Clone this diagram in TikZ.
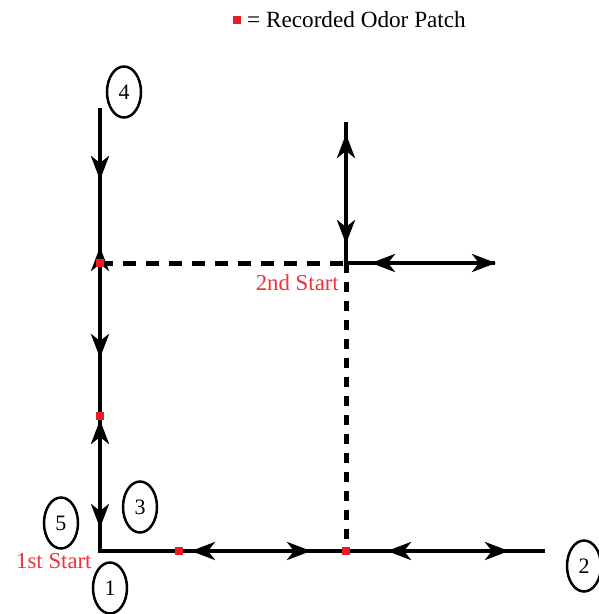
\documentclass[tikz,border=0pt]{standalone}
\usepackage{fontspec}
\setmainfont{Liberation Serif}
\usetikzlibrary{arrows.meta,shapes.geometric}
\definecolor{patch}{RGB}{237,28,36}
\definecolor{lbl}{RGB}{240,50,60}
\tikzset{
  path/.style={line width=4pt,line cap=butt},
  hdash/.style={line width=5pt,dash pattern=on 13pt off 10pt},
  vdash/.style={line width=5pt,dash pattern=on 10pt off 9pt},
  tip/.style={line width=4pt,-{Stealth[length=24pt,width=18pt,inset=7pt]}},
  num/.style={draw,ellipse,line width=2.5pt,minimum width=34pt,minimum height=51pt,inner sep=0pt,font=\fontsize{22}{25}\selectfont},
  sq/.style={fill=patch,draw=none,minimum size=7.5pt,inner sep=0pt},
  lab/.style={text=lbl,font=\fontsize{22.8}{26}\selectfont,inner sep=0pt}
}
\begin{document}
\begin{tikzpicture}[x=1pt,y=-1pt]
\useasboundingbox (0,0) rectangle (599,614);
% key points
\coordinate (top4) at (100,108);
\coordinate (P1) at (100,263);
\coordinate (P2) at (100,416);
\coordinate (O) at (100,551);
\coordinate (B1) at (179,551);
\coordinate (B2) at (346,551);
\coordinate (Bend) at (545,551);
\coordinate (S2) at (346,263);
\coordinate (Utop) at (346,122);
\coordinate (Rend) at (495,263);
% solid lines
\draw[path] (top4) -- (O) -- (Bend);
\draw[path] (Utop) -- (S2) -- (Rend);
% dashed lines
\draw[hdash] (P1) -- (S2);
\draw[vdash] (S2) -- (B2);
% arrow heads, left vertical
\coordinate (a1s) at (100,150); \coordinate (a1t) at (100,180);
\coordinate (a2s) at (100,285); \coordinate (a2t) at (100,247);
\coordinate (a3s) at (100,325); \coordinate (a3t) at (100,358);
\coordinate (a4s) at (100,455); \coordinate (a4t) at (100,420);
\coordinate (a5s) at (100,495); \coordinate (a5t) at (100,528);
\draw[tip] (a1s) -- (a1t);
\draw[tip] (a2s) -- (a2t);
\draw[tip] (a3s) -- (a3t);
\draw[tip] (a4s) -- (a4t);
\draw[tip] (a5s) -- (a5t);
% bottom horizontal
\coordinate (b1s) at (225,551); \coordinate (b1t) at (191,551);
\coordinate (b2s) at (275,551); \coordinate (b2t) at (311,551);
\coordinate (b3s) at (425,551); \coordinate (b3t) at (387,551);
\coordinate (b4s) at (475,551); \coordinate (b4t) at (509,551);
\draw[tip] (b1s) -- (b1t);
\draw[tip] (b2s) -- (b2t);
\draw[tip] (b3s) -- (b3t);
\draw[tip] (b4s) -- (b4t);
% upper vertical at second start
\coordinate (c1s) at (346,170); \coordinate (c1t) at (346,134);
\coordinate (c2s) at (346,210); \coordinate (c2t) at (346,244);
\draw[tip] (c1s) -- (c1t);
\draw[tip] (c2s) -- (c2t);
% right horizontal at second start
\coordinate (d1s) at (405,263); \coordinate (d1t) at (371,263);
\coordinate (d2s) at (460,263); \coordinate (d2t) at (496,263);
\draw[tip] (d1s) -- (d1t);
\draw[tip] (d2s) -- (d2t);
% odor patches
\node[sq] (q1) at (P1) {};
\node[sq] (q2) at (P2) {};
\node[sq] (q3) at (B1) {};
\node[sq] (q4) at (B2) {};
% numbers
\node[num] (n4) at (124,92) {4};
\node[num] (n3) at (140,507) {3};
\node[num] (n5) at (61,523) {5};
\node[num] (n1) at (110,588) {1};
\node[num] (n2) at (584,566) {2};
% labels
\node[lab,anchor=east] (l2) at (339,283) {2nd Start};
\node[lab,anchor=west] (l1) at (16,561) {1st Start};
% legend
\node[sq] (lk) at (237,20) {};
\node[anchor=west,inner sep=0pt,font=\fontsize{23.2}{26}\selectfont] (lt) at (247,20) {= Recorded Odor Patch};
\end{tikzpicture}
\end{document}
